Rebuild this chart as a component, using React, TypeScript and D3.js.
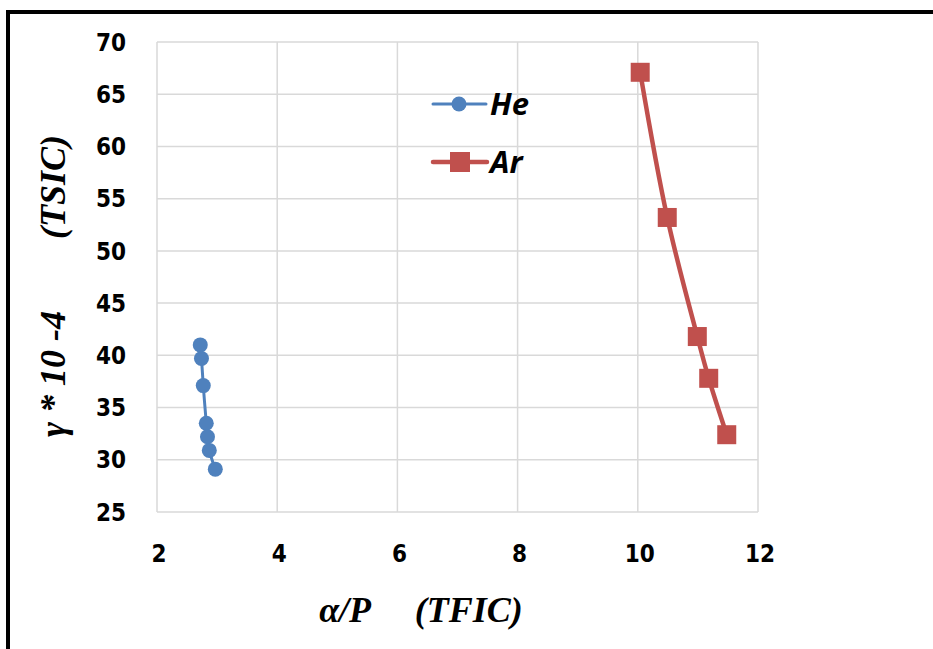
import React from "react";
import * as d3 from "d3";

const heX = [2.72, 2.74, 2.77, 2.82, 2.84, 2.87, 2.97];
const heY = [41.0, 39.7, 37.1, 33.5, 32.2, 30.9, 29.1];
const arX = [10.04, 10.49, 10.99, 11.18, 11.48];
const arY = [67.1, 53.2, 41.8, 37.8, 32.4];
const xTicks = [2, 4, 6, 8, 10, 12];
const yTicks = [25, 30, 35, 40, 45, 50, 55, 60, 65, 70];

const W = 933;
const H = 649;
const L = 157, R = 758, T = 42, B = 512;

export default function App() {
  const x = d3.scaleLinear().domain([2, 12]).range([L, R]);
  const y = d3.scaleLinear().domain([25, 70]).range([B, T]);
  const line = d3
    .line<[number, number]>()
    .x((d) => x(d[0]))
    .y((d) => y(d[1]))
    .curve(d3.curveCatmullRom.alpha(0.5));
  const he: [number, number][] = heX.map((v, i) => [v, heY[i]]);
  const ar: [number, number][] = arX.map((v, i) => [v, arY[i]]);
  const tickFont = "'Liberation Sans Narrow', 'DejaVu Sans Condensed', Arial, sans-serif";
  return (
    <svg width={W} height={H} style={{ position: "absolute", left: 0, top: 0, background: "#fff" }}>
      <rect x={0} y={0} width={W} height={H} fill="#fff" />
      <rect x={8} y={12} width={W + 20} height={H + 20} fill="none" stroke="#000" strokeWidth={4} />
      {xTicks.map((t) => (
        <line key={"gx" + t} x1={x(t)} x2={x(t)} y1={T} y2={B} stroke="#d9d9d9" strokeWidth={1.5} />
      ))}
      {yTicks.map((t) => (
        <line key={"gy" + t} x1={L} x2={R} y1={y(t)} y2={y(t)} stroke="#d9d9d9" strokeWidth={1.5} />
      ))}
      {yTicks.map((t) => (
        <text key={"ty" + t} x={126} y={y(t)} dy="0.36em" textAnchor="end" fontFamily={tickFont} fontWeight="bold" fontSize={24} fill="#000">
          {t}
        </text>
      ))}
      {xTicks.map((t) => (
        <text key={"tx" + t} x={x(t) + 2} y={562} textAnchor="middle" fontFamily={tickFont} fontWeight="bold" fontSize={24} fill="#000">
          {t}
        </text>
      ))}
      <path d={line(he) || ""} fill="none" stroke="#4f81bd" strokeWidth={3} />
      {he.map((d, i) => (
        <circle key={"he" + i} cx={x(d[0])} cy={y(d[1])} r={7.5} fill="#4f81bd" />
      ))}
      <path d={line(ar) || ""} fill="none" stroke="#c0504d" strokeWidth={4.5} />
      {ar.map((d, i) => (
        <rect key={"ar" + i} x={x(d[0]) - 9.5} y={y(d[1]) - 9.5} width={19} height={19} fill="#c0504d" />
      ))}
      {/* legend */}
      <line x1={433} x2={486} y1={104} y2={104} stroke="#4f81bd" strokeWidth={3} strokeLinecap="round" />
      <circle cx={459} cy={104} r={7.5} fill="#4f81bd" />
      <text x={490} y={115} fontFamily="'Open Sans', 'Liberation Sans', sans-serif" fontWeight="bold" fontStyle="italic" fontSize={31} fill="#000">He</text>
      <line x1={433} x2={487} y1={162} y2={162} stroke="#c0504d" strokeWidth={4.5} strokeLinecap="round" />
      <rect x={450} y={152} width={20} height={20} fill="#c0504d" />
      <text x={490} y={173} fontFamily="'Open Sans', 'Liberation Sans', sans-serif" fontWeight="bold" fontStyle="italic" fontSize={31} fill="#000">Ar</text>
      {/* axis titles */}
      <text
        transform="translate(65,286) rotate(-90)"
        textAnchor="middle"
        fontFamily="'Liberation Serif', 'Times New Roman', serif"
        fontWeight="bold"
        fontStyle="italic"
        fontSize={36}
        fill="#000"
        style={{ whiteSpace: "pre" }}
      >
        {"γ * 10 -4        (TSIC)"}
      </text>
      <text
        x={421}
        y={622}
        textAnchor="middle"
        fontFamily="'Liberation Serif', 'Times New Roman', serif"
        fontWeight="bold"
        fontStyle="italic"
        fontSize={36}
        fill="#000"
        style={{ whiteSpace: "pre" }}
      >
        {"α/P     (TFIC)"}
      </text>
    </svg>
  );
}
